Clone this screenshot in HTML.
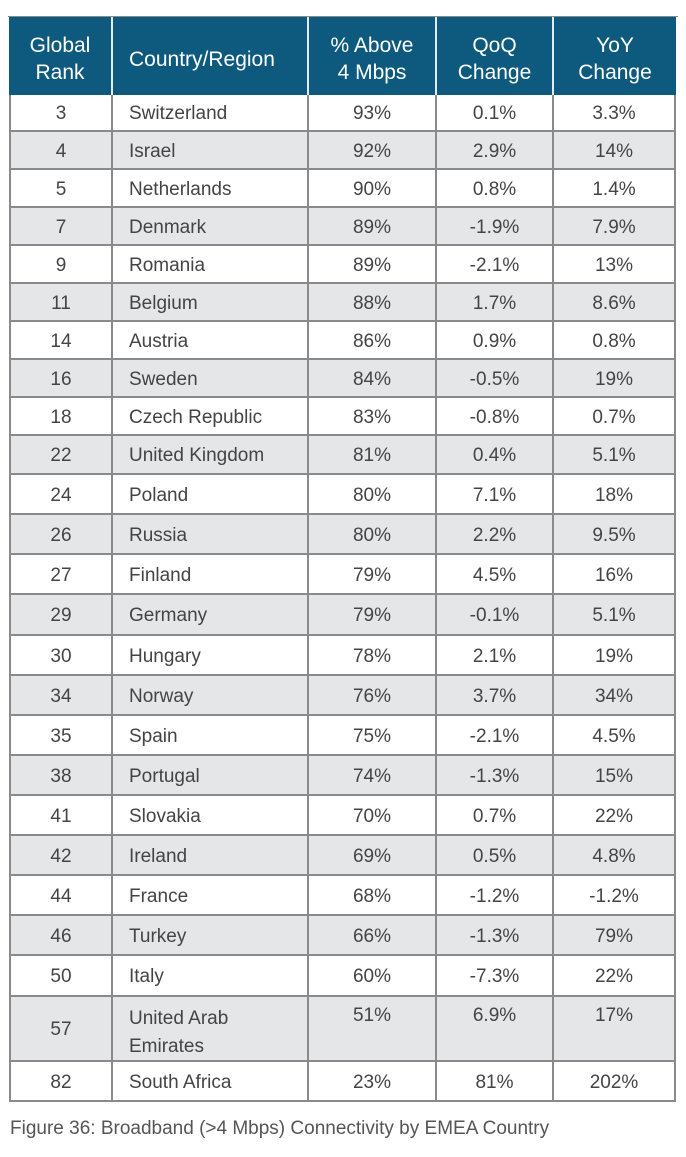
<!DOCTYPE html>
<html><head><meta charset="utf-8"><style>
body{margin:0;width:686px;height:1157px;background:#fff;font-family:"Liberation Sans",sans-serif;position:relative;overflow:hidden}
.c{position:absolute;box-sizing:border-box;display:flex;align-items:center;font-size:19px;color:#444;padding-top:3px}
.hd{background:#0e5a7e;color:#fff;justify-content:center;text-align:center;font-size:21px;line-height:27px;border-right:2px solid #dfeef2;padding-top:6px}
.hd.last{border-right:none}
.hd.left{justify-content:flex-start}
.ctr{justify-content:center}
.left{padding-left:16px}
.top{align-items:flex-start;padding-top:8px}
#cap{position:absolute;left:10px;top:1118px;font-size:19px;color:#555}
</style></head><body>
<div id="tbl"></div>
<div id="cap">Figure 36: Broadband (&gt;4 Mbps) Connectivity by EMEA Country</div>
<script>
const ranks=[3,4,5,7,9,11,14,16,18,22,24,26,27,29,30,34,35,38,41,42,44,46,50,57,82];
const countries=["Switzerland","Israel","Netherlands","Denmark","Romania","Belgium","Austria","Sweden","Czech Republic","United Kingdom","Poland","Russia","Finland","Germany","Hungary","Norway","Spain","Portugal","Slovakia","Ireland","France","Turkey","Italy","United Arab Emirates","South Africa"];
const above4=["93%","92%","90%","89%","89%","88%","86%","84%","83%","81%","80%","80%","79%","79%","78%","76%","75%","74%","70%","69%","68%","66%","60%","51%","23%"];
const qoq=["0.1%","2.9%","0.8%","-1.9%","-2.1%","1.7%","0.9%","-0.5%","-0.8%","0.4%","7.1%","2.2%","4.5%","-0.1%","2.1%","3.7%","-2.1%","-1.3%","0.7%","0.5%","-1.2%","-1.3%","-7.3%","6.9%","81%"];
const yoy=["3.3%","14%","1.4%","7.9%","13%","8.6%","0.8%","19%","0.7%","5.1%","18%","9.5%","16%","5.1%","19%","34%","4.5%","15%","22%","4.8%","-1.2%","79%","22%","17%","202%"];
const headers=["Global<br>Rank","Country/Region","% Above<br>4 Mbps","QoQ<br>Change","YoY<br>Change"];
const colX=[9,113,309,437,554,676];
const rowY=[95,132,170,208,246,284,322,360,398,436,475,515,555,595,636,676,716,756,796,836,876,916,956,997,1062,1102];
const T=document.getElementById('tbl');
const B='#8a8a8a';
function cell(x,y,w,h,html,cls,name){
  const d=document.createElement('div');
  d.className='c '+cls;
  d.style.left=x+'px';d.style.top=y+'px';d.style.width=w+'px';d.style.height=h+'px';
  d.innerHTML=html;
  
  
  T.appendChild(d);return d;
}
for(let j=0;j<5;j++){
  cell(colX[j],17,colX[j+1]-colX[j],rowY[0]-17,headers[j],'hd'+(j==4?' last':'')+(j==1?' left':''),'header-cell');
}
const cols=[ranks,countries,above4,qoq,yoy];
for(let i=0;i<ranks.length;i++){
  const y=rowY[i],h=rowY[i+1]-y;
  const bg=i%2?'#e4e6e7':'#fff';
  const tall=h>50;
  for(let j=0;j<5;j++){
    let cls=j==1?'left':'ctr';
    if(tall&&j!=0)cls+=' top';
    const d=cell(colX[j],y,colX[j+1]-colX[j],h,(j==1&&tall)?'United Arab<br>Emirates':String(cols[j][i]),cls,'table-cell');
    d.style.background=bg;
    d.style.borderRight='2px solid '+B;
    d.style.borderBottom='2px solid '+B;
    if(j==0)d.style.borderLeft='2px solid '+B;
    if(tall&&j==1)d.style.lineHeight='28px';
  }
}
const ob=document.createElement('div');
ob.style.cssText='position:absolute;left:8px;top:16px;width:670px;height:1px;background:'+B;


T.appendChild(ob);
</script>
</body></html>
